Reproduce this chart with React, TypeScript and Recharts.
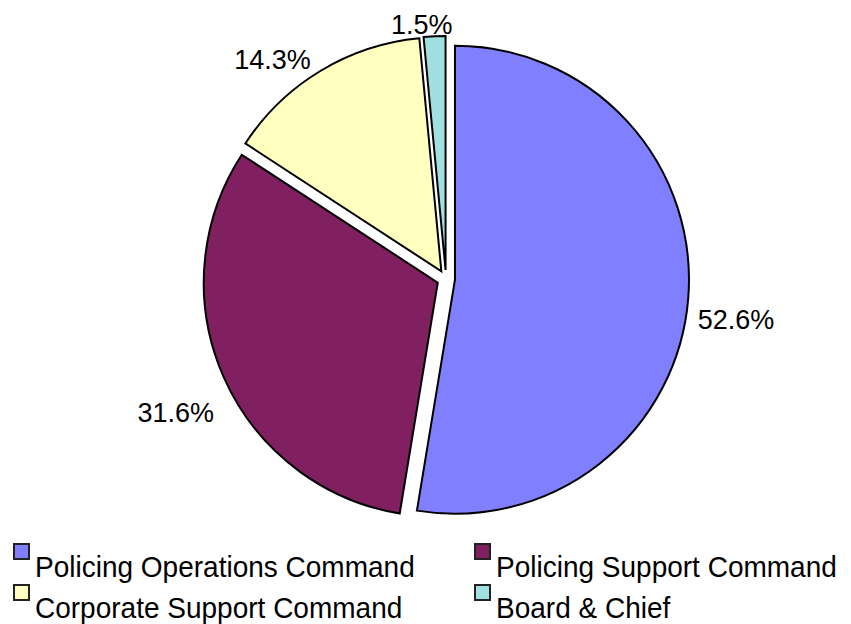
import React from 'react';
import { PieChart, Pie, Cell, Sector, Legend } from 'recharts';

const categories = [
  'Policing Operations Command',
  'Policing Support Command',
  'Corporate Support Command',
  'Board & Chief',
];
const shares = [52.6, 31.6, 14.3, 1.5];
const COLORS = ['#8080FF', '#802060', '#FFFFC0', '#A0E0E0'];

// slices are pulled out from the centre by this many px
const EXPLODE = 9;
const RAD = Math.PI / 180;
const FONT = '"Liberation Sans", Arial, sans-serif';

// small hand nudges so the labels sit where Excel put them
const labelNudge = [
  [0, 19],
  [-4, 28],
  [-23, 7],
  [-11, 10],
];

const data = categories.map((name, i) => ({ name, value: shares[i] }));

const renderSlice = (props: any) => {
  const { cx, cy, midAngle } = props;
  const dx = EXPLODE * Math.cos(midAngle * RAD);
  const dy = -EXPLODE * Math.sin(midAngle * RAD);
  return <Sector {...props} cx={cx + dx} cy={cy + dy} />;
};

const renderLabel = (props: any) => {
  const { cx, cy, midAngle, outerRadius, value, index } = props;
  const ux = Math.cos(midAngle * RAD);
  const uy = -Math.sin(midAngle * RAD);
  const text = `${value.toFixed(1)}%`;
  const halfW = text.length * 7.6;
  const r = outerRadius + EXPLODE + 10;
  const [nx, ny] = labelNudge[index] || [0, 0];
  const x = cx + ux * (r + halfW) + nx;
  const y = cy + uy * (r + 11) + ny;
  return (
    <text
      x={x}
      y={y}
      textAnchor="middle"
      dominantBaseline="central"
      fill="#000"
      fontSize={27}
      fontFamily={FONT}
    >
      {text}
    </text>
  );
};

const LegendBox = (props: any) => {
  // keep the data order (the default payload comes sorted by name)
  const items = [...(props.payload || [])].sort(
    (a: any, b: any) => categories.indexOf(a.value) - categories.indexOf(b.value)
  );
  return (
    <div style={{ position: 'relative', width: 851, height: 81, fontFamily: FONT }}>
      {items.map((entry: any, i: number) => {
        const col = i % 2;
        const row = Math.floor(i / 2);
        const left = col === 0 ? 13 : 474;
        const top = row * 41;
        return (
          <React.Fragment key={entry.value}>
            <div
              style={{
                position: 'absolute',
                left,
                top,
                width: 13,
                height: 13,
                background: entry.color,
                border: '2px solid #222',
              }}
            />
            <div
              style={{
                position: 'absolute',
                left: left + 22,
                top: top + 11,
                fontSize: 28,
                lineHeight: '28px',
                whiteSpace: 'nowrap',
                color: '#000',
                transform: 'scaleY(1.08)',
                transformOrigin: 'left bottom',
              }}
            >
              {entry.value}
            </div>
          </React.Fragment>
        );
      })}
    </div>
  );
};

export default function App() {
  return (
    <div style={{ position: 'absolute', left: 0, top: 0, width: 851, height: 624, background: '#fff' }}>
      <PieChart width={851} height={624} margin={{ top: 0, right: 0, bottom: 0, left: 0 }}>
        <Pie
          data={data}
          dataKey="value"
          nameKey="name"
          cx={446}
          cy={279}
          outerRadius={234}
          startAngle={90}
          endAngle={-270}
          stroke="#000"
          strokeWidth={2}
          shape={renderSlice}
          activeShape={renderSlice}
          inactiveShape={renderSlice}
          label={renderLabel}
          labelLine={false}
          isAnimationActive={false}
        >
          {data.map((d, i) => (
            <Cell key={d.name} fill={COLORS[i]} />
          ))}
        </Pie>
        <Legend
          content={<LegendBox />}
          wrapperStyle={{ position: 'absolute', left: 0, top: 543, width: 851, height: 81 }}
        />
      </PieChart>
    </div>
  );
}
